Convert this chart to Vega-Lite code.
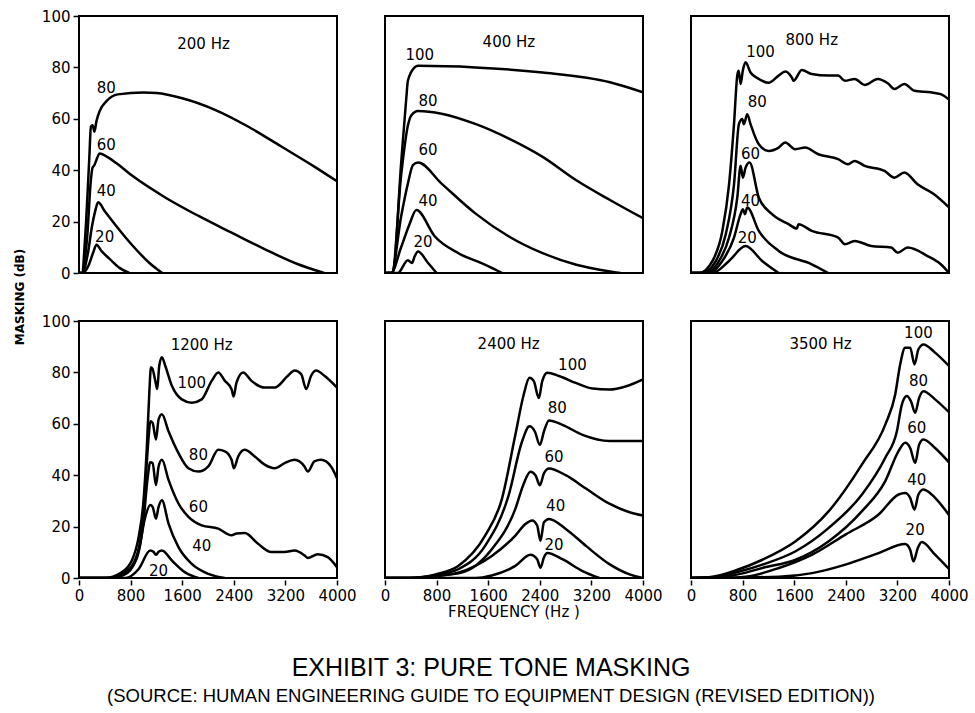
{
  "$schema": "https://vega.github.io/schema/vega-lite/v6.json",
  "background": "white",
  "padding": {"left": 13, "top": 9, "right": 5, "bottom": 5},
  "datasets": {
    "panels": [
      {"p": "200 Hz", "r": 1, "c": 1},
      {"p": "400 Hz", "r": 1, "c": 2},
      {"p": "800 Hz", "r": 1, "c": 3},
      {"p": "1200 Hz", "r": 2, "c": 1},
      {"p": "2400 Hz", "r": 2, "c": 2},
      {"p": "3500 Hz", "r": 2, "c": 3}
    ]
  },
  "data": {
    "values": [
      {"p": "200 Hz", "t": "200 Hz", "f": 1931, "m": 89},
      {"p": "200 Hz", "t": "80", "f": 424, "m": 72},
      {"p": "200 Hz", "t": "60", "f": 424, "m": 49.7},
      {"p": "200 Hz", "t": "40", "f": 424, "m": 32},
      {"p": "200 Hz", "t": "20", "f": 398, "m": 14},
      {"p": "400 Hz", "t": "400 Hz", "f": 1921, "m": 90},
      {"p": "400 Hz", "t": "100", "f": 538, "m": 85},
      {"p": "400 Hz", "t": "80", "f": 668, "m": 67},
      {"p": "400 Hz", "t": "60", "f": 668, "m": 48},
      {"p": "400 Hz", "t": "40", "f": 668, "m": 28},
      {"p": "400 Hz", "t": "20", "f": 590, "m": 12},
      {"p": "800 Hz", "t": "800 Hz", "f": 1872, "m": 90.6},
      {"p": "800 Hz", "t": "100", "f": 1077, "m": 85.8},
      {"p": "800 Hz", "t": "80", "f": 1026, "m": 66.4},
      {"p": "800 Hz", "t": "60", "f": 923, "m": 46.2},
      {"p": "800 Hz", "t": "40", "f": 923, "m": 28},
      {"p": "800 Hz", "t": "20", "f": 872, "m": 13.8},
      {"p": "1200 Hz", "t": "1200 Hz", "f": 1902, "m": 90.5},
      {"p": "1200 Hz", "t": "100", "f": 1748, "m": 76},
      {"p": "1200 Hz", "t": "80", "f": 1851, "m": 48},
      {"p": "1200 Hz", "t": "60", "f": 1851, "m": 27.5},
      {"p": "1200 Hz", "t": "40", "f": 1902, "m": 12.3},
      {"p": "1200 Hz", "t": "20", "f": 1234, "m": 2.9},
      {"p": "2400 Hz", "t": "2400 Hz", "f": 1917, "m": 91},
      {"p": "2400 Hz", "t": "100", "f": 2906, "m": 83},
      {"p": "2400 Hz", "t": "80", "f": 2672, "m": 66},
      {"p": "2400 Hz", "t": "60", "f": 2620, "m": 47},
      {"p": "2400 Hz", "t": "40", "f": 2646, "m": 28},
      {"p": "2400 Hz", "t": "20", "f": 2620, "m": 13},
      {"p": "3500 Hz", "t": "3500 Hz", "f": 2008, "m": 91},
      {"p": "3500 Hz", "t": "100", "f": 3526, "m": 95.5},
      {"p": "3500 Hz", "t": "80", "f": 3526, "m": 76.6},
      {"p": "3500 Hz", "t": "60", "f": 3501, "m": 58.4},
      {"p": "3500 Hz", "t": "40", "f": 3501, "m": 38.3},
      {"p": "3500 Hz", "t": "20", "f": 3475, "m": 18.8},

      {"p": "200 Hz", "l": 20, "f": 0, "m": 0},
      {"p": "200 Hz", "l": 20, "f": 60, "m": 0},
      {"p": "200 Hz", "l": 20, "f": 150, "m": 3},
      {"p": "200 Hz", "l": 20, "f": 220, "m": 8},
      {"p": "200 Hz", "l": 20, "f": 271, "m": 11},
      {"p": "200 Hz", "l": 20, "f": 350, "m": 8.5},
      {"p": "200 Hz", "l": 20, "f": 475, "m": 5.5},
      {"p": "200 Hz", "l": 20, "f": 628, "m": 2},
      {"p": "200 Hz", "l": 20, "f": 780, "m": 0},
      {"p": "200 Hz", "l": 40, "f": 0, "m": 0},
      {"p": "200 Hz", "l": 40, "f": 50, "m": 0},
      {"p": "200 Hz", "l": 40, "f": 140, "m": 8},
      {"p": "200 Hz", "l": 40, "f": 200, "m": 18},
      {"p": "200 Hz", "l": 40, "f": 250, "m": 24},
      {"p": "200 Hz", "l": 40, "f": 296, "m": 27.5},
      {"p": "200 Hz", "l": 40, "f": 400, "m": 24},
      {"p": "200 Hz", "l": 40, "f": 577, "m": 18.3},
      {"p": "200 Hz", "l": 40, "f": 833, "m": 10.6},
      {"p": "200 Hz", "l": 40, "f": 1088, "m": 4},
      {"p": "200 Hz", "l": 40, "f": 1290, "m": 0},
      {"p": "200 Hz", "l": 60, "f": 0, "m": 0},
      {"p": "200 Hz", "l": 60, "f": 45, "m": 0},
      {"p": "200 Hz", "l": 60, "f": 130, "m": 15},
      {"p": "200 Hz", "l": 60, "f": 180, "m": 35},
      {"p": "200 Hz", "l": 60, "f": 210, "m": 41},
      {"p": "200 Hz", "l": 60, "f": 240, "m": 42},
      {"p": "200 Hz", "l": 60, "f": 270, "m": 44},
      {"p": "200 Hz", "l": 60, "f": 322, "m": 46.5},
      {"p": "200 Hz", "l": 60, "f": 450, "m": 45},
      {"p": "200 Hz", "l": 60, "f": 577, "m": 42.8},
      {"p": "200 Hz", "l": 60, "f": 833, "m": 37.7},
      {"p": "200 Hz", "l": 60, "f": 1343, "m": 29.3},
      {"p": "200 Hz", "l": 60, "f": 1854, "m": 22.2},
      {"p": "200 Hz", "l": 60, "f": 2365, "m": 15.7},
      {"p": "200 Hz", "l": 60, "f": 2876, "m": 9.3},
      {"p": "200 Hz", "l": 60, "f": 3386, "m": 3.5},
      {"p": "200 Hz", "l": 60, "f": 3800, "m": 0},
      {"p": "200 Hz", "l": 80, "f": 0, "m": 0},
      {"p": "200 Hz", "l": 80, "f": 40, "m": 0},
      {"p": "200 Hz", "l": 80, "f": 110, "m": 20},
      {"p": "200 Hz", "l": 80, "f": 160, "m": 45},
      {"p": "200 Hz", "l": 80, "f": 185, "m": 57},
      {"p": "200 Hz", "l": 80, "f": 210, "m": 57.5},
      {"p": "200 Hz", "l": 80, "f": 240, "m": 55},
      {"p": "200 Hz", "l": 80, "f": 270, "m": 59},
      {"p": "200 Hz", "l": 80, "f": 320, "m": 63},
      {"p": "200 Hz", "l": 80, "f": 430, "m": 67},
      {"p": "200 Hz", "l": 80, "f": 600, "m": 69.5},
      {"p": "200 Hz", "l": 80, "f": 1000, "m": 70.2},
      {"p": "200 Hz", "l": 80, "f": 1200, "m": 70},
      {"p": "200 Hz", "l": 80, "f": 1600, "m": 68},
      {"p": "200 Hz", "l": 80, "f": 2109, "m": 63.5},
      {"p": "200 Hz", "l": 80, "f": 2620, "m": 57},
      {"p": "200 Hz", "l": 80, "f": 3131, "m": 49.3},
      {"p": "200 Hz", "l": 80, "f": 3642, "m": 41.5},
      {"p": "200 Hz", "l": 80, "f": 4000, "m": 35.7},

      {"p": "400 Hz", "l": 100, "f": 0, "m": 0},
      {"p": "400 Hz", "l": 100, "f": 120, "m": 0},
      {"p": "400 Hz", "l": 100, "f": 250, "m": 42.6},
      {"p": "400 Hz", "l": 100, "f": 330, "m": 68},
      {"p": "400 Hz", "l": 100, "f": 355, "m": 74.8},
      {"p": "400 Hz", "l": 100, "f": 460, "m": 80},
      {"p": "400 Hz", "l": 100, "f": 512, "m": 80.6},
      {"p": "400 Hz", "l": 100, "f": 1400, "m": 80},
      {"p": "400 Hz", "l": 100, "f": 2444, "m": 78},
      {"p": "400 Hz", "l": 100, "f": 3488, "m": 74.2},
      {"p": "400 Hz", "l": 100, "f": 4000, "m": 70.3},
      {"p": "400 Hz", "l": 80, "f": 0, "m": 0},
      {"p": "400 Hz", "l": 80, "f": 110, "m": 0},
      {"p": "400 Hz", "l": 80, "f": 250, "m": 38},
      {"p": "400 Hz", "l": 80, "f": 355, "m": 57.4},
      {"p": "400 Hz", "l": 80, "f": 407, "m": 61.3},
      {"p": "400 Hz", "l": 80, "f": 512, "m": 63},
      {"p": "400 Hz", "l": 80, "f": 877, "m": 62},
      {"p": "400 Hz", "l": 80, "f": 1400, "m": 58},
      {"p": "400 Hz", "l": 80, "f": 1921, "m": 52.3},
      {"p": "400 Hz", "l": 80, "f": 2444, "m": 45.2},
      {"p": "400 Hz", "l": 80, "f": 2966, "m": 36.1},
      {"p": "400 Hz", "l": 80, "f": 3488, "m": 28.4},
      {"p": "400 Hz", "l": 80, "f": 4000, "m": 21.3},
      {"p": "400 Hz", "l": 60, "f": 0, "m": 0},
      {"p": "400 Hz", "l": 60, "f": 100, "m": 0},
      {"p": "400 Hz", "l": 60, "f": 250, "m": 22},
      {"p": "400 Hz", "l": 60, "f": 355, "m": 34.8},
      {"p": "400 Hz", "l": 60, "f": 433, "m": 42},
      {"p": "400 Hz", "l": 60, "f": 512, "m": 43},
      {"p": "400 Hz", "l": 60, "f": 877, "m": 34.8},
      {"p": "400 Hz", "l": 60, "f": 1400, "m": 23.2},
      {"p": "400 Hz", "l": 60, "f": 1921, "m": 14.2},
      {"p": "400 Hz", "l": 60, "f": 2444, "m": 7.7},
      {"p": "400 Hz", "l": 60, "f": 2966, "m": 3.2},
      {"p": "400 Hz", "l": 60, "f": 3488, "m": 0.6},
      {"p": "400 Hz", "l": 60, "f": 3650, "m": 0},
      {"p": "400 Hz", "l": 40, "f": 0, "m": 0},
      {"p": "400 Hz", "l": 40, "f": 94, "m": 0},
      {"p": "400 Hz", "l": 40, "f": 250, "m": 10},
      {"p": "400 Hz", "l": 40, "f": 380, "m": 19},
      {"p": "400 Hz", "l": 40, "f": 486, "m": 24.5},
      {"p": "400 Hz", "l": 40, "f": 773, "m": 14.2},
      {"p": "400 Hz", "l": 40, "f": 1138, "m": 7.7},
      {"p": "400 Hz", "l": 40, "f": 1556, "m": 3.2},
      {"p": "400 Hz", "l": 40, "f": 1817, "m": 0},
      {"p": "400 Hz", "l": 20, "f": 0, "m": 0},
      {"p": "400 Hz", "l": 20, "f": 198, "m": 0},
      {"p": "400 Hz", "l": 20, "f": 355, "m": 5},
      {"p": "400 Hz", "l": 20, "f": 418, "m": 3.9},
      {"p": "400 Hz", "l": 20, "f": 460, "m": 6.5},
      {"p": "400 Hz", "l": 20, "f": 512, "m": 8.4},
      {"p": "400 Hz", "l": 20, "f": 668, "m": 3.9},
      {"p": "400 Hz", "l": 20, "f": 800, "m": 0},

      {"p": "800 Hz", "l": 100, "f": 0, "m": 0},
      {"p": "800 Hz", "l": 100, "f": 128, "m": 0},
      {"p": "800 Hz", "l": 100, "f": 333, "m": 4.7},
      {"p": "800 Hz", "l": 100, "f": 487, "m": 16.4},
      {"p": "800 Hz", "l": 100, "f": 590, "m": 34.5},
      {"p": "800 Hz", "l": 100, "f": 667, "m": 58},
      {"p": "800 Hz", "l": 100, "f": 718, "m": 77},
      {"p": "800 Hz", "l": 100, "f": 740, "m": 78.7},
      {"p": "800 Hz", "l": 100, "f": 769, "m": 73.5},
      {"p": "800 Hz", "l": 100, "f": 805, "m": 79},
      {"p": "800 Hz", "l": 100, "f": 846, "m": 82},
      {"p": "800 Hz", "l": 100, "f": 923, "m": 78},
      {"p": "800 Hz", "l": 100, "f": 1051, "m": 75.5},
      {"p": "800 Hz", "l": 100, "f": 1205, "m": 74},
      {"p": "800 Hz", "l": 100, "f": 1359, "m": 76.8},
      {"p": "800 Hz", "l": 100, "f": 1462, "m": 78.4},
      {"p": "800 Hz", "l": 100, "f": 1564, "m": 76},
      {"p": "800 Hz", "l": 100, "f": 1590, "m": 74.8},
      {"p": "800 Hz", "l": 100, "f": 1718, "m": 79},
      {"p": "800 Hz", "l": 100, "f": 1872, "m": 77.4},
      {"p": "800 Hz", "l": 100, "f": 2128, "m": 76.8},
      {"p": "800 Hz", "l": 100, "f": 2282, "m": 76.8},
      {"p": "800 Hz", "l": 100, "f": 2385, "m": 74.8},
      {"p": "800 Hz", "l": 100, "f": 2538, "m": 75.5},
      {"p": "800 Hz", "l": 100, "f": 2692, "m": 73.2},
      {"p": "800 Hz", "l": 100, "f": 2897, "m": 75.5},
      {"p": "800 Hz", "l": 100, "f": 3051, "m": 73.8},
      {"p": "800 Hz", "l": 100, "f": 3154, "m": 71.6},
      {"p": "800 Hz", "l": 100, "f": 3308, "m": 73.5},
      {"p": "800 Hz", "l": 100, "f": 3462, "m": 70.9},
      {"p": "800 Hz", "l": 100, "f": 3718, "m": 70.3},
      {"p": "800 Hz", "l": 100, "f": 3872, "m": 69.6},
      {"p": "800 Hz", "l": 100, "f": 4000, "m": 67.5},
      {"p": "800 Hz", "l": 80, "f": 0, "m": 0},
      {"p": "800 Hz", "l": 80, "f": 180, "m": 0},
      {"p": "800 Hz", "l": 80, "f": 385, "m": 4.7},
      {"p": "800 Hz", "l": 80, "f": 538, "m": 15},
      {"p": "800 Hz", "l": 80, "f": 667, "m": 34.5},
      {"p": "800 Hz", "l": 80, "f": 744, "m": 58},
      {"p": "800 Hz", "l": 80, "f": 795, "m": 59.9},
      {"p": "800 Hz", "l": 80, "f": 820, "m": 57.9},
      {"p": "800 Hz", "l": 80, "f": 872, "m": 61.8},
      {"p": "800 Hz", "l": 80, "f": 923, "m": 57.9},
      {"p": "800 Hz", "l": 80, "f": 1051, "m": 50.1},
      {"p": "800 Hz", "l": 80, "f": 1205, "m": 47.5},
      {"p": "800 Hz", "l": 80, "f": 1359, "m": 48.8},
      {"p": "800 Hz", "l": 80, "f": 1462, "m": 50.8},
      {"p": "800 Hz", "l": 80, "f": 1615, "m": 48.2},
      {"p": "800 Hz", "l": 80, "f": 1769, "m": 48.8},
      {"p": "800 Hz", "l": 80, "f": 1974, "m": 46.2},
      {"p": "800 Hz", "l": 80, "f": 2282, "m": 44.3},
      {"p": "800 Hz", "l": 80, "f": 2436, "m": 42.3},
      {"p": "800 Hz", "l": 80, "f": 2538, "m": 43.6},
      {"p": "800 Hz", "l": 80, "f": 2692, "m": 41.7},
      {"p": "800 Hz", "l": 80, "f": 3000, "m": 39.7},
      {"p": "800 Hz", "l": 80, "f": 3154, "m": 37.1},
      {"p": "800 Hz", "l": 80, "f": 3308, "m": 39.1},
      {"p": "800 Hz", "l": 80, "f": 3513, "m": 34.5},
      {"p": "800 Hz", "l": 80, "f": 3769, "m": 30.6},
      {"p": "800 Hz", "l": 80, "f": 4000, "m": 25.5},
      {"p": "800 Hz", "l": 60, "f": 0, "m": 0},
      {"p": "800 Hz", "l": 60, "f": 231, "m": 0},
      {"p": "800 Hz", "l": 60, "f": 436, "m": 4.7},
      {"p": "800 Hz", "l": 60, "f": 590, "m": 13.8},
      {"p": "800 Hz", "l": 60, "f": 718, "m": 29.4},
      {"p": "800 Hz", "l": 60, "f": 769, "m": 41.7},
      {"p": "800 Hz", "l": 60, "f": 805, "m": 37.1},
      {"p": "800 Hz", "l": 60, "f": 846, "m": 41},
      {"p": "800 Hz", "l": 60, "f": 908, "m": 43},
      {"p": "800 Hz", "l": 60, "f": 1051, "m": 29.4},
      {"p": "800 Hz", "l": 60, "f": 1256, "m": 22.9},
      {"p": "800 Hz", "l": 60, "f": 1513, "m": 19},
      {"p": "800 Hz", "l": 60, "f": 1641, "m": 17.3},
      {"p": "800 Hz", "l": 60, "f": 1667, "m": 19},
      {"p": "800 Hz", "l": 60, "f": 1872, "m": 16.4},
      {"p": "800 Hz", "l": 60, "f": 2282, "m": 13.8},
      {"p": "800 Hz", "l": 60, "f": 2385, "m": 11.2},
      {"p": "800 Hz", "l": 60, "f": 2538, "m": 12.5},
      {"p": "800 Hz", "l": 60, "f": 2795, "m": 10.5},
      {"p": "800 Hz", "l": 60, "f": 3103, "m": 9.9},
      {"p": "800 Hz", "l": 60, "f": 3205, "m": 7.9},
      {"p": "800 Hz", "l": 60, "f": 3359, "m": 9.9},
      {"p": "800 Hz", "l": 60, "f": 3667, "m": 6.6},
      {"p": "800 Hz", "l": 60, "f": 3872, "m": 3.4},
      {"p": "800 Hz", "l": 60, "f": 4000, "m": 0},
      {"p": "800 Hz", "l": 40, "f": 0, "m": 0},
      {"p": "800 Hz", "l": 40, "f": 282, "m": 0},
      {"p": "800 Hz", "l": 40, "f": 487, "m": 4.7},
      {"p": "800 Hz", "l": 40, "f": 667, "m": 13.8},
      {"p": "800 Hz", "l": 40, "f": 769, "m": 22.9},
      {"p": "800 Hz", "l": 40, "f": 805, "m": 24.8},
      {"p": "800 Hz", "l": 40, "f": 836, "m": 22.9},
      {"p": "800 Hz", "l": 40, "f": 872, "m": 25.5},
      {"p": "800 Hz", "l": 40, "f": 1051, "m": 16.4},
      {"p": "800 Hz", "l": 40, "f": 1359, "m": 8.6},
      {"p": "800 Hz", "l": 40, "f": 1872, "m": 3.4},
      {"p": "800 Hz", "l": 40, "f": 2128, "m": 0},
      {"p": "800 Hz", "l": 20, "f": 0, "m": 0},
      {"p": "800 Hz", "l": 20, "f": 333, "m": 0},
      {"p": "800 Hz", "l": 20, "f": 590, "m": 4.7},
      {"p": "800 Hz", "l": 20, "f": 846, "m": 10.5},
      {"p": "800 Hz", "l": 20, "f": 1103, "m": 4.7},
      {"p": "800 Hz", "l": 20, "f": 1359, "m": 0},

      {"p": "1200 Hz", "l": 100, "f": 0, "m": 0},
      {"p": "1200 Hz", "l": 100, "f": 400, "m": 0},
      {"p": "1200 Hz", "l": 100, "f": 650, "m": 2},
      {"p": "1200 Hz", "l": 100, "f": 823, "m": 7},
      {"p": "1200 Hz", "l": 100, "f": 925, "m": 16},
      {"p": "1200 Hz", "l": 100, "f": 1000, "m": 30},
      {"p": "1200 Hz", "l": 100, "f": 1050, "m": 50},
      {"p": "1200 Hz", "l": 100, "f": 1090, "m": 72},
      {"p": "1200 Hz", "l": 100, "f": 1116, "m": 82},
      {"p": "1200 Hz", "l": 100, "f": 1141, "m": 81.3},
      {"p": "1200 Hz", "l": 100, "f": 1183, "m": 76.7},
      {"p": "1200 Hz", "l": 100, "f": 1213, "m": 73.5},
      {"p": "1200 Hz", "l": 100, "f": 1244, "m": 82.6},
      {"p": "1200 Hz", "l": 100, "f": 1285, "m": 85.9},
      {"p": "1200 Hz", "l": 100, "f": 1337, "m": 82.6},
      {"p": "1200 Hz", "l": 100, "f": 1440, "m": 74.8},
      {"p": "1200 Hz", "l": 100, "f": 1594, "m": 69.5},
      {"p": "1200 Hz", "l": 100, "f": 1748, "m": 68.2},
      {"p": "1200 Hz", "l": 100, "f": 1902, "m": 69.5},
      {"p": "1200 Hz", "l": 100, "f": 2057, "m": 76.7},
      {"p": "1200 Hz", "l": 100, "f": 2159, "m": 80},
      {"p": "1200 Hz", "l": 100, "f": 2262, "m": 76.7},
      {"p": "1200 Hz", "l": 100, "f": 2365, "m": 73.5},
      {"p": "1200 Hz", "l": 100, "f": 2396, "m": 70.6},
      {"p": "1200 Hz", "l": 100, "f": 2442, "m": 76},
      {"p": "1200 Hz", "l": 100, "f": 2545, "m": 80},
      {"p": "1200 Hz", "l": 100, "f": 2674, "m": 76.7},
      {"p": "1200 Hz", "l": 100, "f": 2879, "m": 74.1},
      {"p": "1200 Hz", "l": 100, "f": 3033, "m": 74.1},
      {"p": "1200 Hz", "l": 100, "f": 3239, "m": 78.7},
      {"p": "1200 Hz", "l": 100, "f": 3342, "m": 80.7},
      {"p": "1200 Hz", "l": 100, "f": 3445, "m": 79.3},
      {"p": "1200 Hz", "l": 100, "f": 3522, "m": 73.5},
      {"p": "1200 Hz", "l": 100, "f": 3599, "m": 78.7},
      {"p": "1200 Hz", "l": 100, "f": 3676, "m": 80.7},
      {"p": "1200 Hz", "l": 100, "f": 3805, "m": 78.7},
      {"p": "1200 Hz", "l": 100, "f": 4000, "m": 74.1},
      {"p": "1200 Hz", "l": 80, "f": 0, "m": 0},
      {"p": "1200 Hz", "l": 80, "f": 450, "m": 0},
      {"p": "1200 Hz", "l": 80, "f": 700, "m": 2},
      {"p": "1200 Hz", "l": 80, "f": 870, "m": 7},
      {"p": "1200 Hz", "l": 80, "f": 970, "m": 18},
      {"p": "1200 Hz", "l": 80, "f": 1028, "m": 36},
      {"p": "1200 Hz", "l": 80, "f": 1080, "m": 55},
      {"p": "1200 Hz", "l": 80, "f": 1105, "m": 61},
      {"p": "1200 Hz", "l": 80, "f": 1141, "m": 60.4},
      {"p": "1200 Hz", "l": 80, "f": 1193, "m": 53.9},
      {"p": "1200 Hz", "l": 80, "f": 1234, "m": 61.7},
      {"p": "1200 Hz", "l": 80, "f": 1285, "m": 63.7},
      {"p": "1200 Hz", "l": 80, "f": 1388, "m": 57.1},
      {"p": "1200 Hz", "l": 80, "f": 1542, "m": 48.6},
      {"p": "1200 Hz", "l": 80, "f": 1697, "m": 42.7},
      {"p": "1200 Hz", "l": 80, "f": 1851, "m": 41.4},
      {"p": "1200 Hz", "l": 80, "f": 2005, "m": 43.4},
      {"p": "1200 Hz", "l": 80, "f": 2159, "m": 49.9},
      {"p": "1200 Hz", "l": 80, "f": 2262, "m": 49.3},
      {"p": "1200 Hz", "l": 80, "f": 2365, "m": 46},
      {"p": "1200 Hz", "l": 80, "f": 2401, "m": 42.7},
      {"p": "1200 Hz", "l": 80, "f": 2468, "m": 47.3},
      {"p": "1200 Hz", "l": 80, "f": 2571, "m": 49.9},
      {"p": "1200 Hz", "l": 80, "f": 2725, "m": 47.3},
      {"p": "1200 Hz", "l": 80, "f": 2879, "m": 44.1},
      {"p": "1200 Hz", "l": 80, "f": 3033, "m": 42.7},
      {"p": "1200 Hz", "l": 80, "f": 3188, "m": 44.7},
      {"p": "1200 Hz", "l": 80, "f": 3342, "m": 46},
      {"p": "1200 Hz", "l": 80, "f": 3496, "m": 43.4},
      {"p": "1200 Hz", "l": 80, "f": 3547, "m": 41.4},
      {"p": "1200 Hz", "l": 80, "f": 3650, "m": 45.4},
      {"p": "1200 Hz", "l": 80, "f": 3753, "m": 46},
      {"p": "1200 Hz", "l": 80, "f": 3907, "m": 43.4},
      {"p": "1200 Hz", "l": 80, "f": 4000, "m": 38.8},
      {"p": "1200 Hz", "l": 60, "f": 0, "m": 0},
      {"p": "1200 Hz", "l": 60, "f": 480, "m": 0},
      {"p": "1200 Hz", "l": 60, "f": 720, "m": 2},
      {"p": "1200 Hz", "l": 60, "f": 900, "m": 8},
      {"p": "1200 Hz", "l": 60, "f": 1000, "m": 22},
      {"p": "1200 Hz", "l": 60, "f": 1060, "m": 38},
      {"p": "1200 Hz", "l": 60, "f": 1105, "m": 45},
      {"p": "1200 Hz", "l": 60, "f": 1141, "m": 44.7},
      {"p": "1200 Hz", "l": 60, "f": 1193, "m": 36.2},
      {"p": "1200 Hz", "l": 60, "f": 1234, "m": 43.4},
      {"p": "1200 Hz", "l": 60, "f": 1285, "m": 46},
      {"p": "1200 Hz", "l": 60, "f": 1388, "m": 38.2},
      {"p": "1200 Hz", "l": 60, "f": 1542, "m": 29},
      {"p": "1200 Hz", "l": 60, "f": 1697, "m": 23.8},
      {"p": "1200 Hz", "l": 60, "f": 1902, "m": 20.5},
      {"p": "1200 Hz", "l": 60, "f": 2159, "m": 19.2},
      {"p": "1200 Hz", "l": 60, "f": 2365, "m": 16.6},
      {"p": "1200 Hz", "l": 60, "f": 2442, "m": 17.3},
      {"p": "1200 Hz", "l": 60, "f": 2571, "m": 17.5},
      {"p": "1200 Hz", "l": 60, "f": 2776, "m": 13.3},
      {"p": "1200 Hz", "l": 60, "f": 2982, "m": 10.1},
      {"p": "1200 Hz", "l": 60, "f": 3188, "m": 10.1},
      {"p": "1200 Hz", "l": 60, "f": 3342, "m": 10.7},
      {"p": "1200 Hz", "l": 60, "f": 3496, "m": 8.8},
      {"p": "1200 Hz", "l": 60, "f": 3547, "m": 7.8},
      {"p": "1200 Hz", "l": 60, "f": 3702, "m": 9.2},
      {"p": "1200 Hz", "l": 60, "f": 3856, "m": 8.1},
      {"p": "1200 Hz", "l": 60, "f": 4000, "m": 4.2},
      {"p": "1200 Hz", "l": 40, "f": 0, "m": 0},
      {"p": "1200 Hz", "l": 40, "f": 500, "m": 0},
      {"p": "1200 Hz", "l": 40, "f": 750, "m": 2},
      {"p": "1200 Hz", "l": 40, "f": 925, "m": 10.7},
      {"p": "1200 Hz", "l": 40, "f": 1028, "m": 23.8},
      {"p": "1200 Hz", "l": 40, "f": 1105, "m": 28.4},
      {"p": "1200 Hz", "l": 40, "f": 1141, "m": 27.7},
      {"p": "1200 Hz", "l": 40, "f": 1193, "m": 23.1},
      {"p": "1200 Hz", "l": 40, "f": 1234, "m": 27.7},
      {"p": "1200 Hz", "l": 40, "f": 1285, "m": 30.3},
      {"p": "1200 Hz", "l": 40, "f": 1388, "m": 21.2},
      {"p": "1200 Hz", "l": 40, "f": 1542, "m": 12},
      {"p": "1200 Hz", "l": 40, "f": 1748, "m": 5.5},
      {"p": "1200 Hz", "l": 40, "f": 2005, "m": 1.6},
      {"p": "1200 Hz", "l": 40, "f": 2262, "m": 0},
      {"p": "1200 Hz", "l": 20, "f": 0, "m": 0},
      {"p": "1200 Hz", "l": 20, "f": 720, "m": 0},
      {"p": "1200 Hz", "l": 20, "f": 925, "m": 3.5},
      {"p": "1200 Hz", "l": 20, "f": 1105, "m": 10.7},
      {"p": "1200 Hz", "l": 20, "f": 1157, "m": 10.1},
      {"p": "1200 Hz", "l": 20, "f": 1193, "m": 9},
      {"p": "1200 Hz", "l": 20, "f": 1234, "m": 10.2},
      {"p": "1200 Hz", "l": 20, "f": 1285, "m": 10.7},
      {"p": "1200 Hz", "l": 20, "f": 1440, "m": 6.8},
      {"p": "1200 Hz", "l": 20, "f": 1645, "m": 2.2},
      {"p": "1200 Hz", "l": 20, "f": 1851, "m": 0},

      {"p": "2400 Hz", "l": 100, "f": 0, "m": 0},
      {"p": "2400 Hz", "l": 100, "f": 354, "m": 0},
      {"p": "2400 Hz", "l": 100, "f": 800, "m": 1.5},
      {"p": "2400 Hz", "l": 100, "f": 1135, "m": 4.7},
      {"p": "2400 Hz", "l": 100, "f": 1552, "m": 16.5},
      {"p": "2400 Hz", "l": 100, "f": 1813, "m": 30.8},
      {"p": "2400 Hz", "l": 100, "f": 2021, "m": 55.7},
      {"p": "2400 Hz", "l": 100, "f": 2151, "m": 71.4},
      {"p": "2400 Hz", "l": 100, "f": 2240, "m": 77.9},
      {"p": "2400 Hz", "l": 100, "f": 2307, "m": 76.6},
      {"p": "2400 Hz", "l": 100, "f": 2385, "m": 70},
      {"p": "2400 Hz", "l": 100, "f": 2438, "m": 76.6},
      {"p": "2400 Hz", "l": 100, "f": 2516, "m": 79.9},
      {"p": "2400 Hz", "l": 100, "f": 2698, "m": 78.6},
      {"p": "2400 Hz", "l": 100, "f": 2958, "m": 75.9},
      {"p": "2400 Hz", "l": 100, "f": 3219, "m": 73.7},
      {"p": "2400 Hz", "l": 100, "f": 3479, "m": 73.3},
      {"p": "2400 Hz", "l": 100, "f": 3740, "m": 74.6},
      {"p": "2400 Hz", "l": 100, "f": 4000, "m": 77.3},
      {"p": "2400 Hz", "l": 80, "f": 0, "m": 0},
      {"p": "2400 Hz", "l": 80, "f": 400, "m": 0},
      {"p": "2400 Hz", "l": 80, "f": 800, "m": 1.2},
      {"p": "2400 Hz", "l": 80, "f": 1135, "m": 3.4},
      {"p": "2400 Hz", "l": 80, "f": 1552, "m": 12.5},
      {"p": "2400 Hz", "l": 80, "f": 1917, "m": 32.2},
      {"p": "2400 Hz", "l": 80, "f": 2125, "m": 53.1},
      {"p": "2400 Hz", "l": 80, "f": 2240, "m": 59},
      {"p": "2400 Hz", "l": 80, "f": 2323, "m": 57},
      {"p": "2400 Hz", "l": 80, "f": 2401, "m": 51.8},
      {"p": "2400 Hz", "l": 80, "f": 2464, "m": 57},
      {"p": "2400 Hz", "l": 80, "f": 2542, "m": 61.3},
      {"p": "2400 Hz", "l": 80, "f": 2750, "m": 59.6},
      {"p": "2400 Hz", "l": 80, "f": 3063, "m": 55.7},
      {"p": "2400 Hz", "l": 80, "f": 3479, "m": 53.3},
      {"p": "2400 Hz", "l": 80, "f": 4000, "m": 53.3},
      {"p": "2400 Hz", "l": 60, "f": 0, "m": 0},
      {"p": "2400 Hz", "l": 60, "f": 450, "m": 0},
      {"p": "2400 Hz", "l": 60, "f": 850, "m": 1},
      {"p": "2400 Hz", "l": 60, "f": 1187, "m": 2.1},
      {"p": "2400 Hz", "l": 60, "f": 1656, "m": 11.2},
      {"p": "2400 Hz", "l": 60, "f": 2021, "m": 26.9},
      {"p": "2400 Hz", "l": 60, "f": 2151, "m": 36.7},
      {"p": "2400 Hz", "l": 60, "f": 2255, "m": 41.3},
      {"p": "2400 Hz", "l": 60, "f": 2333, "m": 40},
      {"p": "2400 Hz", "l": 60, "f": 2401, "m": 36.1},
      {"p": "2400 Hz", "l": 60, "f": 2464, "m": 40.7},
      {"p": "2400 Hz", "l": 60, "f": 2542, "m": 42.6},
      {"p": "2400 Hz", "l": 60, "f": 2802, "m": 40},
      {"p": "2400 Hz", "l": 60, "f": 3115, "m": 34.8},
      {"p": "2400 Hz", "l": 60, "f": 3479, "m": 28.9},
      {"p": "2400 Hz", "l": 60, "f": 3792, "m": 25.6},
      {"p": "2400 Hz", "l": 60, "f": 4000, "m": 24.3},
      {"p": "2400 Hz", "l": 40, "f": 0, "m": 0},
      {"p": "2400 Hz", "l": 40, "f": 500, "m": 0},
      {"p": "2400 Hz", "l": 40, "f": 850, "m": 0.8},
      {"p": "2400 Hz", "l": 40, "f": 1135, "m": 2.1},
      {"p": "2400 Hz", "l": 40, "f": 1656, "m": 8.6},
      {"p": "2400 Hz", "l": 40, "f": 2021, "m": 16.5},
      {"p": "2400 Hz", "l": 40, "f": 2177, "m": 21},
      {"p": "2400 Hz", "l": 40, "f": 2281, "m": 22.4},
      {"p": "2400 Hz", "l": 40, "f": 2359, "m": 20.4},
      {"p": "2400 Hz", "l": 40, "f": 2411, "m": 14.5},
      {"p": "2400 Hz", "l": 40, "f": 2464, "m": 21.7},
      {"p": "2400 Hz", "l": 40, "f": 2542, "m": 23},
      {"p": "2400 Hz", "l": 40, "f": 2802, "m": 19.1},
      {"p": "2400 Hz", "l": 40, "f": 3115, "m": 12.5},
      {"p": "2400 Hz", "l": 40, "f": 3479, "m": 5.4},
      {"p": "2400 Hz", "l": 40, "f": 3792, "m": 1.4},
      {"p": "2400 Hz", "l": 40, "f": 4000, "m": 0},
      {"p": "2400 Hz", "l": 20, "f": 0, "m": 0},
      {"p": "2400 Hz", "l": 20, "f": 1400, "m": 0},
      {"p": "2400 Hz", "l": 20, "f": 1656, "m": 1},
      {"p": "2400 Hz", "l": 20, "f": 2021, "m": 4.7},
      {"p": "2400 Hz", "l": 20, "f": 2255, "m": 9},
      {"p": "2400 Hz", "l": 20, "f": 2359, "m": 7.3},
      {"p": "2400 Hz", "l": 20, "f": 2411, "m": 4},
      {"p": "2400 Hz", "l": 20, "f": 2464, "m": 8},
      {"p": "2400 Hz", "l": 20, "f": 2516, "m": 9.7},
      {"p": "2400 Hz", "l": 20, "f": 2750, "m": 7.3},
      {"p": "2400 Hz", "l": 20, "f": 3063, "m": 2.7},
      {"p": "2400 Hz", "l": 20, "f": 3323, "m": 0},

      {"p": "3500 Hz", "l": 100, "f": 0, "m": 0},
      {"p": "3500 Hz", "l": 100, "f": 335, "m": 0.5},
      {"p": "3500 Hz", "l": 100, "f": 700, "m": 3},
      {"p": "3500 Hz", "l": 100, "f": 1107, "m": 7.1},
      {"p": "3500 Hz", "l": 100, "f": 1622, "m": 14.3},
      {"p": "3500 Hz", "l": 100, "f": 2136, "m": 26},
      {"p": "3500 Hz", "l": 100, "f": 2651, "m": 44.2},
      {"p": "3500 Hz", "l": 100, "f": 3012, "m": 59.7},
      {"p": "3500 Hz", "l": 100, "f": 3166, "m": 71.4},
      {"p": "3500 Hz", "l": 100, "f": 3243, "m": 83.1},
      {"p": "3500 Hz", "l": 100, "f": 3320, "m": 89.6},
      {"p": "3500 Hz", "l": 100, "f": 3398, "m": 89.6},
      {"p": "3500 Hz", "l": 100, "f": 3465, "m": 83.1},
      {"p": "3500 Hz", "l": 100, "f": 3526, "m": 89},
      {"p": "3500 Hz", "l": 100, "f": 3604, "m": 90.9},
      {"p": "3500 Hz", "l": 100, "f": 3784, "m": 87.7},
      {"p": "3500 Hz", "l": 100, "f": 4000, "m": 82.5},
      {"p": "3500 Hz", "l": 80, "f": 0, "m": 0},
      {"p": "3500 Hz", "l": 80, "f": 400, "m": 0.5},
      {"p": "3500 Hz", "l": 80, "f": 750, "m": 2.5},
      {"p": "3500 Hz", "l": 80, "f": 1107, "m": 5.2},
      {"p": "3500 Hz", "l": 80, "f": 1622, "m": 10.4},
      {"p": "3500 Hz", "l": 80, "f": 2136, "m": 19.5},
      {"p": "3500 Hz", "l": 80, "f": 2651, "m": 32.5},
      {"p": "3500 Hz", "l": 80, "f": 3012, "m": 46.8},
      {"p": "3500 Hz", "l": 80, "f": 3192, "m": 57.1},
      {"p": "3500 Hz", "l": 80, "f": 3269, "m": 67.5},
      {"p": "3500 Hz", "l": 80, "f": 3347, "m": 70.8},
      {"p": "3500 Hz", "l": 80, "f": 3409, "m": 68.8},
      {"p": "3500 Hz", "l": 80, "f": 3475, "m": 64.3},
      {"p": "3500 Hz", "l": 80, "f": 3537, "m": 70.1},
      {"p": "3500 Hz", "l": 80, "f": 3604, "m": 72.7},
      {"p": "3500 Hz", "l": 80, "f": 3784, "m": 69.5},
      {"p": "3500 Hz", "l": 80, "f": 4000, "m": 64.5},
      {"p": "3500 Hz", "l": 60, "f": 0, "m": 0},
      {"p": "3500 Hz", "l": 60, "f": 450, "m": 0.3},
      {"p": "3500 Hz", "l": 60, "f": 800, "m": 1.8},
      {"p": "3500 Hz", "l": 60, "f": 1107, "m": 3.9},
      {"p": "3500 Hz", "l": 60, "f": 1622, "m": 7.1},
      {"p": "3500 Hz", "l": 60, "f": 2136, "m": 14.3},
      {"p": "3500 Hz", "l": 60, "f": 2651, "m": 26},
      {"p": "3500 Hz", "l": 60, "f": 3012, "m": 37.7},
      {"p": "3500 Hz", "l": 60, "f": 3218, "m": 49.4},
      {"p": "3500 Hz", "l": 60, "f": 3320, "m": 52.6},
      {"p": "3500 Hz", "l": 60, "f": 3398, "m": 50.6},
      {"p": "3500 Hz", "l": 60, "f": 3475, "m": 44.8},
      {"p": "3500 Hz", "l": 60, "f": 3537, "m": 51.9},
      {"p": "3500 Hz", "l": 60, "f": 3604, "m": 53.9},
      {"p": "3500 Hz", "l": 60, "f": 3784, "m": 50.6},
      {"p": "3500 Hz", "l": 60, "f": 4000, "m": 45},
      {"p": "3500 Hz", "l": 40, "f": 0, "m": 0},
      {"p": "3500 Hz", "l": 40, "f": 500, "m": 0},
      {"p": "3500 Hz", "l": 40, "f": 849, "m": 0.5},
      {"p": "3500 Hz", "l": 40, "f": 1364, "m": 3.9},
      {"p": "3500 Hz", "l": 40, "f": 1879, "m": 9.1},
      {"p": "3500 Hz", "l": 40, "f": 2394, "m": 16.9},
      {"p": "3500 Hz", "l": 40, "f": 2909, "m": 24.7},
      {"p": "3500 Hz", "l": 40, "f": 3218, "m": 32.5},
      {"p": "3500 Hz", "l": 40, "f": 3320, "m": 33.1},
      {"p": "3500 Hz", "l": 40, "f": 3398, "m": 31.2},
      {"p": "3500 Hz", "l": 40, "f": 3465, "m": 26.6},
      {"p": "3500 Hz", "l": 40, "f": 3526, "m": 32.5},
      {"p": "3500 Hz", "l": 40, "f": 3604, "m": 34.4},
      {"p": "3500 Hz", "l": 40, "f": 3784, "m": 31.2},
      {"p": "3500 Hz", "l": 40, "f": 4000, "m": 24.5},
      {"p": "3500 Hz", "l": 20, "f": 0, "m": 0},
      {"p": "3500 Hz", "l": 20, "f": 1364, "m": 0.5},
      {"p": "3500 Hz", "l": 20, "f": 1879, "m": 1.9},
      {"p": "3500 Hz", "l": 20, "f": 2394, "m": 5.2},
      {"p": "3500 Hz", "l": 20, "f": 2909, "m": 9.7},
      {"p": "3500 Hz", "l": 20, "f": 3320, "m": 13.2},
      {"p": "3500 Hz", "l": 20, "f": 3398, "m": 11},
      {"p": "3500 Hz", "l": 20, "f": 3449, "m": 6.5},
      {"p": "3500 Hz", "l": 20, "f": 3517, "m": 11.7},
      {"p": "3500 Hz", "l": 20, "f": 3578, "m": 14},
      {"p": "3500 Hz", "l": 20, "f": 3784, "m": 9.1},
      {"p": "3500 Hz", "l": 20, "f": 4000, "m": 3.5}
    ]
  },
  "transform": [
    {"lookup": "p", "from": {"data": {"name": "panels"}, "key": "p", "fields": ["r", "c"]}}
  ],
  "facet": {
    "row": {
      "field": "r",
      "type": "ordinal",
      "header": {
        "labels": false,
        "title": "MASKING (dB)",
        "titleFont": "DejaVu Sans",
        "titleFontSize": 12,
        "titleFontWeight": "bold",
        "titleColor": "black",
        "titlePadding": 4
      }
    },
    "column": {
      "field": "c",
      "type": "ordinal",
      "header": {
        "labels": false,
        "title": "FREQUENCY (Hz )",
        "titleOrient": "bottom",
        "titleFont": "DejaVu Sans",
        "titleFontSize": 15,
        "titleFontWeight": "normal",
        "titleColor": "black",
        "titlePadding": -8
      }
    }
  },
  "spacing": {"row": 45, "column": 46},
  "spec": {
    "width": 258,
    "height": 257,
    "layer": [
      {
        "transform": [{"filter": "!isValid(datum.t)"}],
        "mark": {"type": "line", "interpolate": "monotone", "color": "black", "strokeWidth": 2.5, "clip": true},
        "encoding": {
          "x": {
            "field": "f",
            "type": "quantitative",
            "scale": {"domain": [0, 4000], "nice": false},
            "axis": {"values": [0, 800, 1600, 2400, 3200, 4000], "format": "d", "title": null}
          },
          "y": {
            "field": "m",
            "type": "quantitative",
            "scale": {"domain": [0, 100], "nice": false},
            "axis": {"values": [0, 20, 40, 60, 80, 100], "format": "d", "title": null}
          },
          "detail": {"field": "l", "type": "nominal"}
        }
      },
      {
        "transform": [{"filter": "isValid(datum.t)"}],
        "mark": {"type": "text", "font": "DejaVu Sans", "fontSize": 15, "color": "black", "align": "center", "baseline": "middle"},
        "encoding": {
          "x": {"field": "f", "type": "quantitative"},
          "y": {"field": "m", "type": "quantitative"},
          "text": {"field": "t", "type": "nominal"}
        }
      }
    ]
  },
  "title": {
    "text": "EXHIBIT 3:  PURE TONE MASKING",
    "subtitle": "(SOURCE:  HUMAN ENGINEERING GUIDE TO EQUIPMENT DESIGN (REVISED EDITION))",
    "orient": "bottom",
    "anchor": "middle",
    "font": "Liberation Sans",
    "fontSize": 25,
    "fontWeight": "normal",
    "color": "black",
    "subtitleFont": "Liberation Sans",
    "subtitleFontSize": 18.5,
    "subtitleColor": "black",
    "subtitlePadding": 6,
    "offset": 36
  },
  "config": {
    "view": {"stroke": "black", "strokeWidth": 2},
    "axis": {
      "domain": false,
      "grid": false,
      "labelFont": "DejaVu Sans",
      "labelFontSize": 15,
      "labelColor": "black",
      "labelFlush": false,
      "labelOverlap": false,
      "labelPadding": 3,
      "tickColor": "black",
      "tickSize": 5,
      "tickWidth": 1.5
    }
  }
}
